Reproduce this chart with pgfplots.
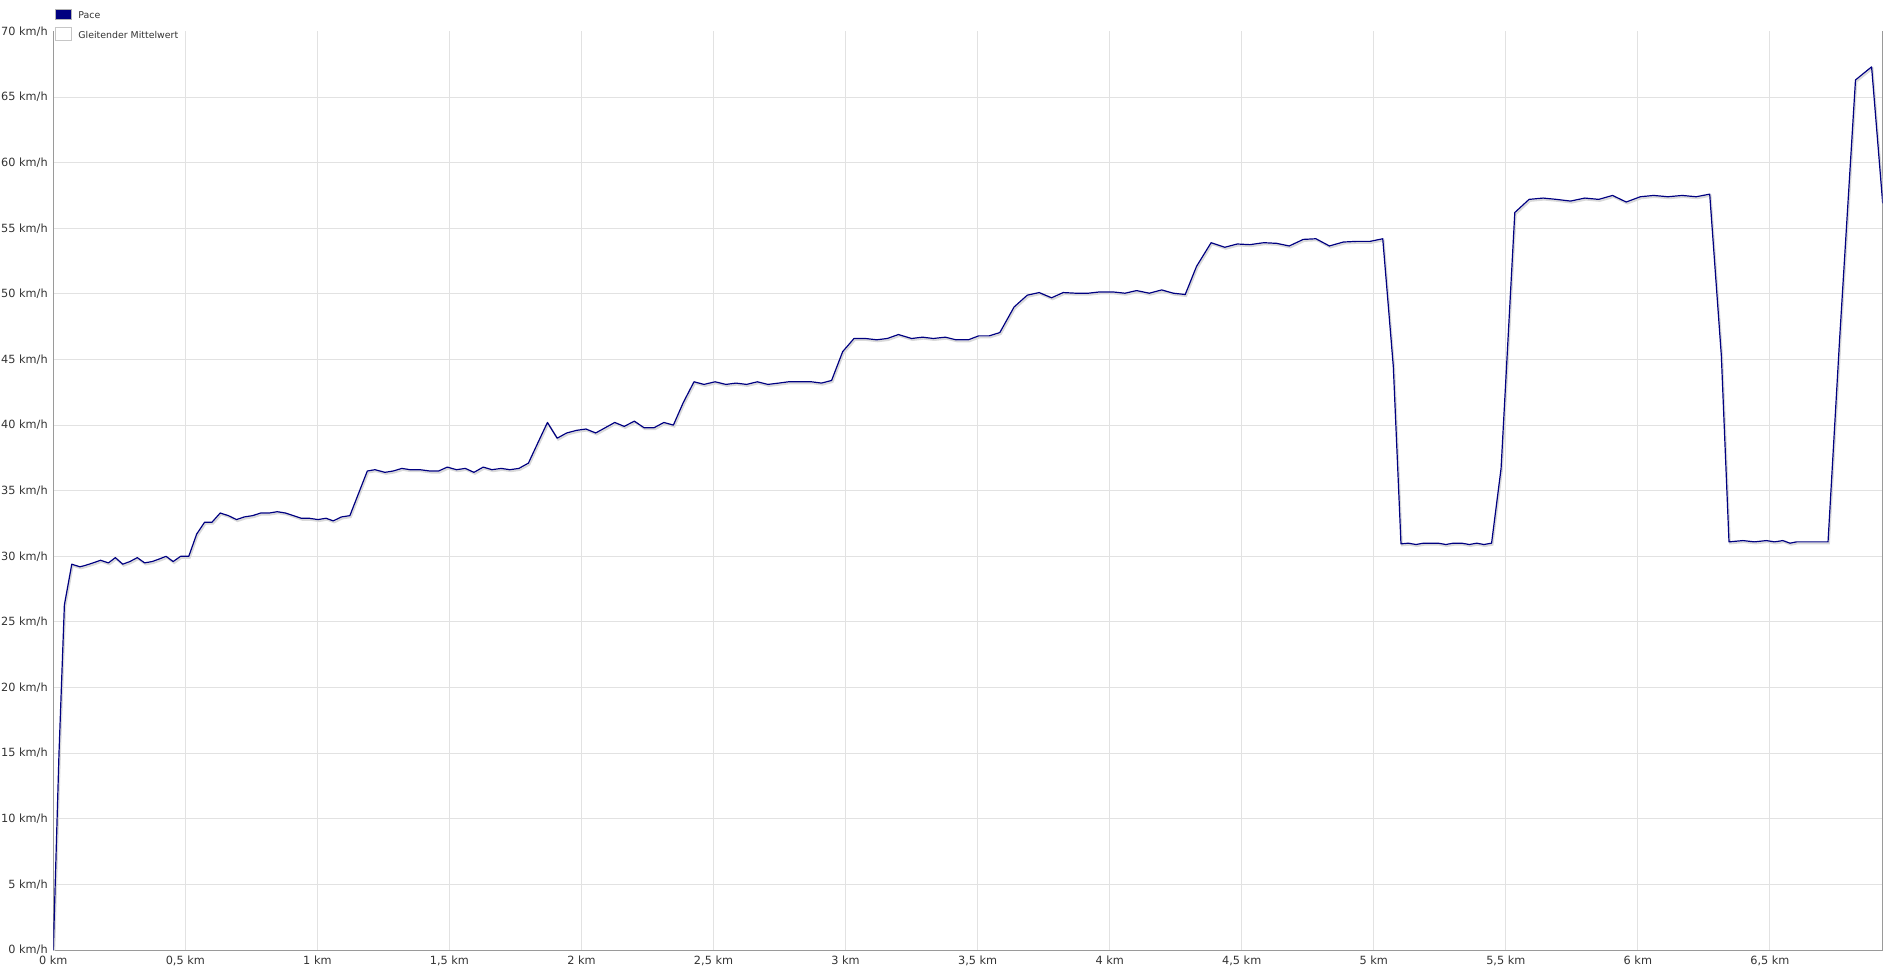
\documentclass[border=0pt]{standalone}
\usepackage{fontspec}
\setmainfont{DejaVu Sans}
\usepackage{pgfplots}
\usepackage{pgfplotstable}
\pgfplotsset{compat=1.18}

\definecolor{paceblue}{HTML}{000080}
\definecolor{gridgray}{HTML}{E2E2E2}
\definecolor{axisgray}{HTML}{9A9A9A}
\definecolor{labelgray}{HTML}{333333}

% distance (km) vs. speed (km/h)
\pgfplotstableread{
km kmh
0 0
0.0216 15
0.042 26.3
0.070 29.4
0.101 29.2
0.120 29.3
0.151 29.5
0.179 29.7
0.209 29.5
0.235 29.9
0.263 29.4
0.290 29.6
0.318 29.9
0.346 29.5
0.374 29.6
0.402 29.8
0.427 30.0
0.454 29.6
0.482 30.0
0.513 30.0
0.543 31.7
0.573 32.6
0.601 32.6
0.632 33.3
0.663 33.1
0.694 32.8
0.723 33.0
0.755 33.1
0.785 33.3
0.818 33.3
0.848 33.4
0.879 33.3
0.909 33.1
0.939 32.9
0.969 32.9
1.002 32.8
1.033 32.9
1.060 32.7
1.091 33.0
1.123 33.1
1.156 34.8
1.189 36.5
1.218 36.6
1.256 36.4
1.287 36.5
1.320 36.7
1.351 36.6
1.389 36.6
1.426 36.5
1.459 36.5
1.492 36.8
1.527 36.6
1.560 36.7
1.593 36.4
1.628 36.8
1.661 36.6
1.696 36.7
1.729 36.6
1.763 36.7
1.799 37.1
1.836 38.7
1.871 40.2
1.908 39.0
1.944 39.4
1.982 39.6
2.017 39.7
2.054 39.4
2.090 39.8
2.126 40.2
2.162 39.9
2.200 40.3
2.237 39.8
2.275 39.8
2.312 40.2
2.348 40.0
2.385 41.7
2.426 43.3
2.464 43.1
2.506 43.3
2.547 43.1
2.585 43.2
2.625 43.1
2.666 43.3
2.706 43.1
2.747 43.2
2.784 43.3
2.827 43.3
2.871 43.3
2.909 43.2
2.947 43.4
2.989 45.6
3.032 46.6
3.075 46.6
3.118 46.5
3.158 46.6
3.200 46.9
3.250 46.6
3.292 46.7
3.332 46.6
3.378 46.7
3.418 46.5
3.465 46.5
3.504 46.8
3.544 46.8
3.584 47.05
3.638 49.0
3.688 49.9
3.733 50.1
3.780 49.7
3.824 50.1
3.872 50.05
3.919 50.05
3.963 50.15
4.011 50.15
4.058 50.05
4.102 50.25
4.150 50.05
4.197 50.3
4.241 50.05
4.286 49.95
4.329 52.1
4.384 53.9
4.436 53.55
4.483 53.8
4.531 53.75
4.584 53.9
4.632 53.85
4.680 53.65
4.733 54.15
4.781 54.2
4.832 53.65
4.885 53.95
4.935 54.0
4.986 54.0
5.034 54.2
5.074 44.45
5.103 30.95
5.131 31.0
5.160 30.9
5.188 31.0
5.215 31.0
5.244 31.0
5.273 30.9
5.301 31.0
5.333 31.0
5.362 30.9
5.390 31.0
5.417 30.9
5.446 31.0
5.482 36.7
5.534 56.2
5.588 57.2
5.641 57.3
5.692 57.2
5.745 57.07
5.799 57.3
5.852 57.2
5.904 57.5
5.956 57.0
6.009 57.4
6.060 57.5
6.114 57.4
6.168 57.5
6.221 57.4
6.272 57.6
6.316 45.3
6.345 31.1
6.398 31.2
6.442 31.1
6.486 31.2
6.518 31.1
6.549 31.2
6.576 31.0
6.601 31.1
6.630 31.1
6.660 31.1
6.690 31.1
6.720 31.1
6.764 46.6
6.824 66.3
6.885 67.3
6.927 56.9
}\pace

\begin{document}
\begin{tikzpicture}
\begin{axis}[
  at={(0,0)}, anchor=south west,
  scale only axis,
  width=914.7pt, height=459.3pt,
  xmin=0, xmax=6.927,
  ymin=0, ymax=70,
  axis x line*=bottom,
  axis line style={draw=axisgray, line width=0.5pt},
  xtick={0,0.5,1,1.5,2,2.5,3,3.5,4,4.5,5,5.5,6,6.5},
  xticklabels={0 km,{0,5 km},1 km,{1,5 km},2 km,{2,5 km},3 km,{3,5 km},4 km,{4,5 km},5 km,{5,5 km},6 km,{6,5 km}},
  ytick={0,5,10,15,20,25,30,35,40,45,50,55,60,65},
  yticklabels={0 km/h,5 km/h,10 km/h,15 km/h,20 km/h,25 km/h,30 km/h,35 km/h,40 km/h,45 km/h,50 km/h,55 km/h,60 km/h,65 km/h},
  extra y ticks={70},
  extra y tick labels={70 km/h},
  extra y tick style={grid=none},
  grid=major,
  major grid style={draw=gridgray, line width=0.5pt},
  major tick length=0pt,
  ticklabel style={font=\fontsize{5.65}{6.5}\selectfont, text=labelgray},
  xticklabel style={anchor=north, inner sep=0pt, yshift=-3pt},
  yticklabel style={anchor=east, inner sep=0pt, xshift=-2.6pt},
  legend cell align=left,
  legend style={at={(0,1)}, anchor=north west, xshift=0.85pt, yshift=11.6pt,
    draw=none, fill=none, inner sep=0pt, row sep=2.6pt, column sep=3pt,
    font=\fontsize{4.7}{5.5}\selectfont, text=labelgray,
    nodes={inner sep=0pt}},
]
  % soft shadow under the line
  \addplot[draw=black!15, line width=0.9pt, xshift=0.5pt, yshift=-0.8pt, forget plot] table[x=km, y=kmh] {\pace};
  \addplot[draw=paceblue, line width=0.6pt, line join=round, forget plot] table[x=km, y=kmh] {\pace};

  \addlegendimage{legend image code/.code={\draw[fill=paceblue, draw=gray!60, line width=0.5pt] (0pt,-1.2pt) rectangle (8pt,3.9pt);}}
  \addlegendentry{Pace}
  \addlegendimage{legend image code/.code={\draw[fill=white, draw=gray!45, line width=0.5pt] (0pt,-1.9pt) rectangle (8pt,4.6pt);}}
  \addlegendentry{Gleitender Mittelwert}
\end{axis}
\pgfresetboundingbox
\useasboundingbox (-26.65pt,-8pt) rectangle (924.85pt,475pt);
\end{tikzpicture}
\end{document}
